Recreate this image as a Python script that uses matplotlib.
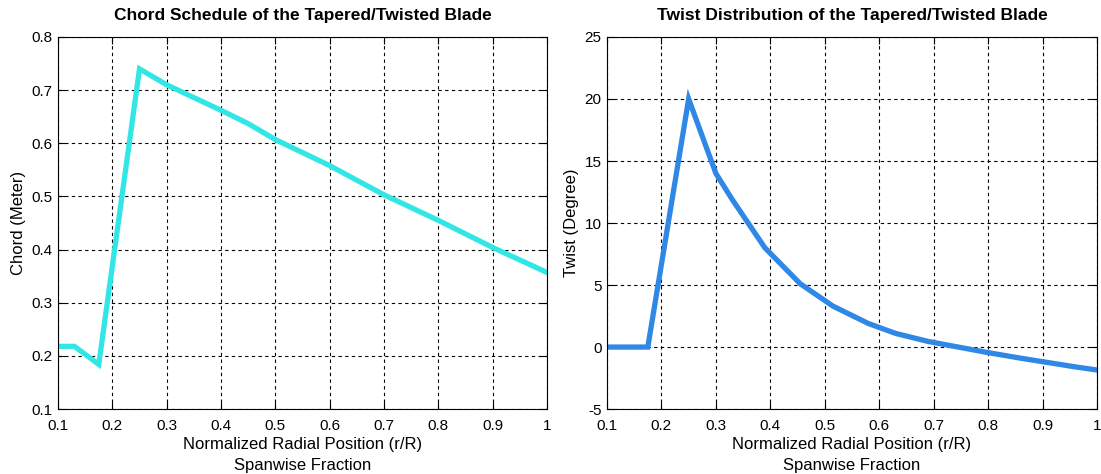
import matplotlib
matplotlib.use('Agg')
import matplotlib.pyplot as plt

# chord schedule (r/R, meters)
chord_r = [0.1, 0.13, 0.175, 0.25, 0.3, 0.4, 0.45, 0.5, 0.6, 0.7, 0.8, 0.9, 1.0]
chord_c = [0.218, 0.218, 0.184, 0.74, 0.71, 0.662, 0.637, 0.607, 0.558, 0.503, 0.455, 0.404, 0.357]

# twist distribution (r/R, degrees)
twist_r = [0.1, 0.175, 0.25, 0.30, 0.33, 0.39, 0.455, 0.515, 0.58, 0.63, 0.69, 0.8, 0.86, 0.96, 1.0]
twist_t = [0, 0, 20.0, 14.0, 11.9, 8.0, 5.1, 3.3, 1.9, 1.1, 0.45, -0.45, -0.9, -1.6, -1.85]

xticks = [0.1, 0.2, 0.3, 0.4, 0.5, 0.6, 0.7, 0.8, 0.9, 1]
xlabel = 'Normalized Radial Position (r/R)\nSpanwise Fraction'

plt.rcParams['font.family'] = ['Liberation Sans', 'DejaVu Sans']


def style_axes(ax, yticks):
    ax.set_xlim(0.1, 1)
    ax.set_xticks(xticks)
    ax.set_xticklabels([('%g' % t) for t in xticks], fontsize=11)
    ax.set_yticks(yticks)
    ax.set_yticklabels([('%g' % t) for t in yticks], fontsize=11)
    ax.tick_params(direction='in', top=True, right=True, length=5, width=0.8)
    ax.tick_params(axis='x', pad=7)
    ax.tick_params(axis='y', pad=4)
    ax.grid(True, color='black', linestyle=(0, (3, 3)), linewidth=0.8)
    for s in ax.spines.values():
        s.set_linewidth(0.8)
    ax.set_xlabel(xlabel, fontsize=12, linespacing=1.5, labelpad=3)


fig = plt.figure(figsize=(11.01, 4.74), dpi=100)
ax1 = fig.add_axes([0.0527, 0.137, 0.4441, 0.785])
ax2 = fig.add_axes([0.5513, 0.137, 0.4451, 0.785])

ax1.plot(chord_r, chord_c, color='#33e6e6', linewidth=3.8, solid_joinstyle='miter')
ax1.set_ylim(0.1, 0.8)
style_axes(ax1, [0.1, 0.2, 0.3, 0.4, 0.5, 0.6, 0.7, 0.8])
ax1.set_ylabel('Chord (Meter)', fontsize=12, labelpad=4)
ax1.set_title('Chord Schedule of the Tapered/Twisted Blade', fontsize=12.5, fontweight='bold', pad=12)

ax2.plot(twist_r, twist_t, color='#2f88e6', linewidth=3.8, solid_joinstyle='miter')
ax2.set_ylim(-5, 25)
style_axes(ax2, [-5, 0, 5, 10, 15, 20, 25])
ax2.set_ylabel('Twist (Degree)', fontsize=12, labelpad=4)
ax2.set_title('Twist Distribution of the Tapered/Twisted Blade', fontsize=12.5, fontweight='bold', pad=12)

plt.savefig('out.png', dpi=100)
